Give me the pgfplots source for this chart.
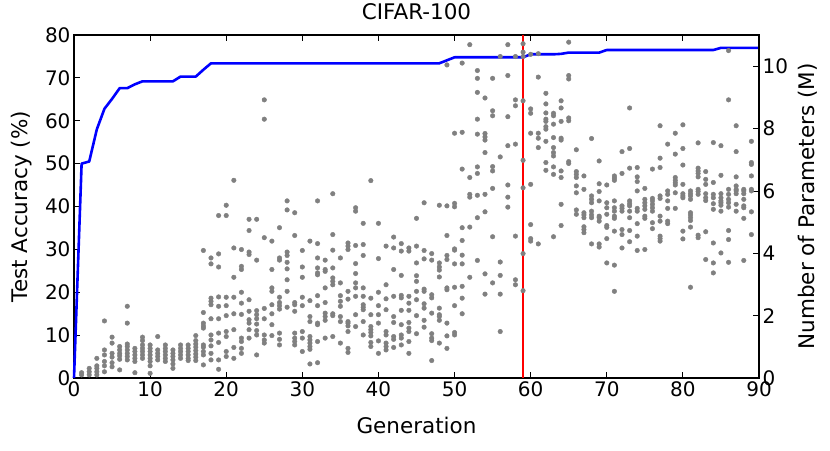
\documentclass[border=0pt]{standalone}
\usepackage{pgfplots}
\pgfplotsset{compat=1.18}
\usepackage{fontspec}
\setmainfont{DejaVu Sans}
\definecolor{dotgray}{RGB}{128,128,128}
\begin{document}
\begin{tikzpicture}
\pgfplotsset{
  base/.style={
    at={(0pt,0pt)}, anchor=south west,
    width=685pt, height=343pt, scale only axis,
    xmin=0, xmax=90,
    tick align=inside,
    major tick length=6pt,
    every tick/.style={black, line width=0.8pt},
    axis line style={line width=2.4pt},
    /pgf/number format/assume math mode=true,
    tick label style={font=\fontsize{20}{22}\selectfont},
    label style={font=\fontsize{21.5}{24}\selectfont},
    clip=false,
  }
}
\begin{axis}[base,
  ymin=0, ymax=80, ytick={0,10,...,80},
  xtick={0,10,...,90},
  ytick pos=left,
  xlabel={Generation},
  ylabel={Test Accuracy (\%)},
  title={CIFAR-100},
  title style={at={(axis description cs:0.5,1)}, anchor=center, yshift=17pt, font=\fontsize{21.5}{24}\selectfont},
  xlabel style={at={(axis description cs:0.5,0)}, anchor=center, yshift=-47pt},
  ylabel style={at={(axis description cs:0,0.5)}, anchor=center, yshift=52pt},
]
\addplot[blue, line width=2.6pt, line join=round] coordinates {
(0,0)(1,50.0)(2,50.5)(3,58.0)(4,62.8)(5,65.1)(6,67.6)(7,67.6)(8,68.5)(9,69.2)
(10,69.2)(11,69.2)(12,69.2)(13,69.2)(14,70.3)(15,70.3)(16,70.3)(17,71.9)(18,73.4)
(30,73.4)(40,73.4)(48,73.4)(49,74.1)(50,74.8)(58,74.8)(59,74.8)(60,75.5)(63,75.5)
(64,75.6)(65,75.9)(69,75.9)(70,76.5)(84,76.5)(85,77.0)(90,77.0)
};
\addplot[red, line width=1.3pt] coordinates {(59,0)(59,80)};
\end{axis}
\begin{axis}[base,
  ymin=0, ymax=11, ytick={0,2,...,10},
  axis x line=none,
  axis y line*=right,
  ylabel={Number of Parameters (M)},
  ylabel style={at={(axis description cs:1,0.5)}, anchor=center, yshift=-49pt},
]
\addplot[only marks, mark=*, mark size=2.3pt, mark options={draw=dotgray, fill=dotgray}] coordinates {
(1,0.17)(1,0.1)
(2,0.31)(2,0.2)(2,0.1)
(3,0.63)(3,0.39)(3,0.31)(3,0.2)(3,0.1)
(4,1.83)(4,0.9)(4,0.74)(4,0.53)(4,0.39)(4,0.2)
(5,1.31)(5,1.12)(5,0.79)(5,0.67)(5,0.49)(5,0.36)
(6,1.01)(6,0.9)(6,0.79)(6,0.71)(6,0.6)(6,0.26)
(7,2.3)(7,1.76)(7,1.09)(7,1.01)(7,0.9)(7,0.79)(7,0.69)(7,0.58)
(8,0.95)(8,0.85)(8,0.74)(8,0.63)(8,0.53)(8,0.17)
(9,1.31)(9,1.2)(9,1.06)(9,0.95)(9,0.85)(9,0.74)(9,0.63)
(10,1.06)(10,0.95)(10,0.85)(10,0.74)(10,0.63)(10,0.53)(10,0.39)(10,0.15)
(11,1.33)(11,0.9)(11,0.79)(11,0.69)(11,0.58)
(12,1.06)(12,0.95)(12,0.85)(12,0.74)(12,0.63)(12,0.53)
(13,0.9)(13,0.79)(13,0.69)(13,0.58)(13,0.45)(13,0.31)
(14,1.06)(14,0.95)(14,0.85)(14,0.74)(14,0.63)
(15,1.06)(15,0.95)(15,0.85)(15,0.74)(15,0.63)(15,0.56)
(16,1.36)(16,1.2)(16,1.09)(16,0.99)(16,0.88)(16,0.77)(16,0.67)(16,0.56)
(17,4.09)(17,2.1)(17,1.76)(17,1.67)(17,1.6)(17,1.06)(17,0.99)(17,0.85)(17,0.74)(17,0.42)
(18,3.85)(18,3.66)(18,2.56)(18,2.46)(18,2.35)(18,1.9)(18,1.38)(18,1.22)(18,1.03)(18,0.79)(18,0.58)
(19,5.21)(19,3.98)(19,3.56)(19,2.6)(19,2.3)(19,1.9)(19,1.44)(19,1.14)(19,0.58)(19,0.28)
(20,5.54)(20,5.21)(20,2.59)(20,2.32)(20,2.0)(20,1.49)(20,1.33)(20,0.85)(20,0.69)
(21,6.34)(21,4.17)(21,3.23)(21,2.59)(21,2.06)(21,1.55)(21,0.98)(21,0.63)
(22,4.12)(22,3.58)(22,3.48)(22,2.75)(22,2.4)(22,2.04)(22,1.28)(22,1.17)(22,0.95)(22,0.79)
(23,5.09)(23,4.73)(23,4.04)(23,3.96)(23,2.51)(23,2.14)(23,1.87)(23,1.76)(23,1.55)(23,1.28)
(24,5.09)(24,3.78)(24,2.16)(24,2.03)(24,1.9)(24,1.73)(24,1.52)(24,1.38)(24,0.74)
(25,8.92)(25,8.3)(25,4.5)(25,2.23)(25,1.9)(25,1.38)(25,1.22)(25,1.12)
(26,4.39)(26,3.48)(26,2.89)(26,2.78)(26,2.35)(26,2.06)(26,1.71)(26,1.36)
(27,4.82)(27,3.85)(27,3.78)(27,2.59)(27,2.42)(27,2.32)(27,2.21)(27,1.44)(27,1.24)(27,1.06)
(28,5.68)(28,5.39)(28,4.04)(28,3.93)(28,3.71)(28,3.5)(28,3.15)(28,2.78)(28,2.27)
(29,5.3)(29,4.57)(29,2.42)(29,2.35)(29,2.14)(29,1.44)(29,1.28)(29,1.17)(29,1.06)
(30,4.09)(30,3.56)(30,3.23)(30,2.59)(30,2.32)(30,1.49)(30,1.28)(30,0.85)
(31,4.39)(31,2.48)(31,1.97)(31,1.81)(31,1.33)(31,1.22)(31,1.12)(31,1.01)(31,0.92)(31,0.45)
(32,5.68)(32,4.31)(32,3.85)(32,3.53)(32,3.37)(32,3.31)(32,2.64)(32,2.32)(32,1.76)(32,1.71)(32,1.17)(32,0.49)
(33,3.78)(33,3.48)(33,3.42)(33,2.89)(33,2.42)(33,2.08)(33,1.97)(33,1.85)(33,1.28)
(34,5.91)(34,4.6)(34,4.1)(34,3.53)(34,3.21)(34,3.1)(34,2.99)(34,2.06)(34,2.0)(34,1.33)
(35,3.85)(35,3.05)(35,2.64)(35,2.46)(35,2.3)(35,1.97)(35,1.81)(35,1.12)
(36,4.33)(36,4.23)(36,4.12)(36,2.78)(36,2.53)(36,1.81)(36,1.76)(36,1.67)(36,1.49)(36,0.95)(36,0.82)
(37,5.46)(37,5.35)(37,4.25)(37,3.67)(37,3.35)(37,3.05)(37,2.89)(37,2.62)(37,2.03)(37,1.65)
(38,4.96)(38,4.28)(38,3.93)(38,2.89)(38,2.62)(38,2.35)(38,2.27)(38,2.19)(38,1.81)(38,1.38)
(39,6.33)(39,2.56)(39,2.03)(39,1.65)(39,1.55)(39,1.46)(39,1.35)(39,1.14)(39,1.01)
(40,4.96)(40,3.83)(40,2.75)(40,2.32)(40,2.03)(40,1.76)(40,1.19)(40,0.79)
(41,4.23)(41,2.99)(41,2.54)(41,2.19)(41,1.49)(41,1.38)(41,1.12)(41,1.01)(41,0.9)
(42,4.52)(42,4.17)(42,3.48)(42,2.62)(42,1.97)(42,1.78)(42,1.33)(42,1.24)(42,0.98)
(43,4.31)(43,4.07)(43,3.29)(43,2.65)(43,2.57)(43,2.17)(43,1.71)(43,1.38)(43,1.28)(43,1.06)
(44,4.17)(44,4.07)(44,2.62)(44,2.4)(44,2.17)(44,1.78)(44,1.6)(44,1.49)(44,1.17)(44,0.79)
(45,5.12)(45,4.23)(45,3.69)(45,3.28)(45,3.1)(45,2.78)(45,2.51)(45,2.0)(45,1.42)
(46,5.62)(46,4.09)(46,3.82)(46,2.85)(46,2.78)(46,2.38)(46,2.24)(46,1.85)(46,1.63)
(47,3.99)(47,3.78)(47,2.67)(47,2.57)(47,2.08)(47,1.42)(47,1.28)(47,1.2)(47,0.56)
(48,5.54)(48,3.69)(48,3.56)(48,3.46)(48,3.24)(48,2.24)(48,2.03)(48,1.97)(48,1.85)(48,1.12)
(49,10.04)(49,5.52)(49,4.57)(49,3.93)(49,3.8)(49,2.89)(49,2.83)(49,1.76)(49,1.35)(49,0.95)
(50,7.85)(50,5.6)(50,5.49)(50,4.14)(50,4.1)(50,3.66)(50,2.91)(50,2.32)(50,1.46)(50,1.38)
(51,10.1)(51,7.88)(51,6.7)(51,4.82)(51,4.41)(51,3.94)(51,3.66)(51,2.94)(51,2.56)(51,2.06)
(52,10.69)(52,6.43)(52,5.89)(52,5.8)(52,4.84)(52,3.23)
(53,9.86)(53,9.61)(53,9.16)(53,8.3)(53,7.82)(53,6.77)(53,6.56)(53,5.86)(53,5.14)(53,3.77)
(54,8.98)(54,7.84)(54,7.73)(54,7.63)(54,7.23)(54,5.89)(54,5.33)(54,3.34)(54,2.69)
(55,9.61)(55,8.57)(55,8.41)(55,6.78)(55,6.64)(55,6.08)(55,4.53)(55,3.05)
(56,10.31)(56,7.09)(56,3.72)(56,3.29)(56,2.69)(56,1.49)
(57,10.69)(57,9.7)(57,8.38)(57,7.45)(57,6.19)(57,5.8)(57,5.48)
(58,10.31)(58,8.92)(58,8.73)(58,7.5)(58,4.55)(58,3.15)(58,2.99)
(59,10.72)(59,10.45)(59,10.31)(59,8.89)(59,6.98)(59,6.1)(59,3.99)(59,2.8)
(60,10.38)(60,8.63)(60,8.49)(60,7.85)(60,6.21)(60,4.92)(60,4.47)(60,4.39)
(61,10.4)(61,9.65)(61,7.85)(61,7.69)(61,7.39)(61,4.3)
(62,9.13)(62,8.79)(62,8.5)(62,8.3)(62,8.23)(62,8.06)(62,7.98)(62,7.59)(62,6.91)(62,6.66)
(63,8.49)(63,8.41)(63,8.14)(63,7.71)(63,7.39)(63,7.23)(63,7.12)(63,6.77)(63,6.53)(63,4.53)
(64,8.89)(64,8.66)(64,8.23)(64,7.69)(64,7.63)(64,6.64)(64,6.43)(64,5.57)(64,4.89)
(65,10.77)(65,9.7)(65,9.59)(65,8.34)(65,8.25)(65,6.94)(65,6.88)
(66,7.32)(66,6.62)(66,6.53)(66,6.43)(66,6.16)(66,5.94)(66,5.39)(66,5.25)
(67,6.48)(67,6.05)(67,5.3)(67,5.23)(67,5.14)(67,4.85)(67,4.76)(67,4.66)
(68,7.68)(68,5.84)(68,5.73)(68,5.62)(68,5.35)(68,5.23)(68,5.14)(68,4.3)
(69,6.96)(69,6.23)(69,5.98)(69,5.68)(69,5.19)(69,5.14)(69,5.03)(69,4.3)(69,4.2)
(70,6.19)(70,5.62)(70,5.46)(70,5.25)(70,4.89)(70,4.83)(70,4.47)(70,3.69)
(71,6.48)(71,6.41)(71,6.34)(71,5.68)(71,5.46)(71,5.35)(71,5.19)(71,5.12)(71,4.71)(71,3.62)(71,2.78)
(72,7.26)(72,6.56)(72,5.52)(72,5.44)(72,5.35)(72,4.76)(72,4.6)(72,4.17)
(73,8.66)(73,7.36)(73,6.73)(73,5.68)(73,5.59)(73,5.52)(73,5.35)(73,5.14)(73,4.73)(73,4.37)
(74,6.75)(74,6.45)(74,6.3)(74,6.0)(74,5.44)(74,5.35)(74,4.95)(74,4.55)(74,4.09)
(75,6.08)(75,5.73)(75,5.62)(75,5.52)(75,5.41)(75,5.19)(75,5.12)(75,4.12)
(76,6.7)(76,5.76)(76,5.68)(76,5.57)(76,5.46)(76,5.35)(76,4.98)(76,4.79)
(77,8.09)(77,7.05)(77,6.75)(77,5.84)(77,5.76)(77,5.19)(77,5.03)(77,4.55)(77,4.47)(77,4.39)
(78,7.5)(78,6.0)(78,5.89)(78,5.68)(78,5.44)(78,5.03)(78,4.95)
(79,7.85)(79,7.18)(79,6.43)(79,6.34)(79,6.26)(79,6.19)(79,5.94)(79,5.44)
(80,8.12)(80,7.36)(80,6.83)(80,6.21)(80,5.91)(80,5.84)(80,5.78)(80,4.71)(80,4.46)
(81,6.0)(81,5.91)(81,5.84)(81,5.73)(81,5.3)(81,5.23)(81,5.14)(81,5.05)(81,4.84)(81,2.91)
(82,7.54)(82,6.73)(82,6.64)(82,6.56)(82,6.45)(82,6.05)(82,5.98)(82,5.89)(82,4.58)(82,4.5)
(83,6.62)(83,6.37)(83,6.21)(83,5.91)(83,5.78)(83,5.69)(83,4.69)(83,3.8)
(84,7.55)(84,6.27)(84,5.89)(84,5.78)(84,5.59)(84,5.41)(84,4.33)(84,3.69)(84,3.37)
(85,7.45)(85,6.5)(85,5.91)(85,5.78)(85,5.68)(85,5.62)(85,5.54)(85,5.35)(85,4.01)
(86,10.5)(86,8.92)(86,6.05)(86,5.89)(86,5.73)(86,5.62)(86,5.48)(86,4.73)(86,4.44)(86,3.71)
(87,8.09)(87,7.26)(87,6.45)(87,6.16)(87,6.05)(87,6.0)(87,5.91)(87,5.57)(87,5.35)
(88,6.05)(88,6.0)(88,5.91)(88,5.73)(88,5.52)(88,5.46)(88,5.12)(88,3.77)
(89,7.59)(89,6.91)(89,6.85)(89,6.48)(89,6.05)(89,6.0)(89,5.33)(89,4.6)
};
\end{axis}
\pgfresetboundingbox
\path (-74pt,-72pt) rectangle (756pt,378pt);
\end{tikzpicture}
\end{document}
